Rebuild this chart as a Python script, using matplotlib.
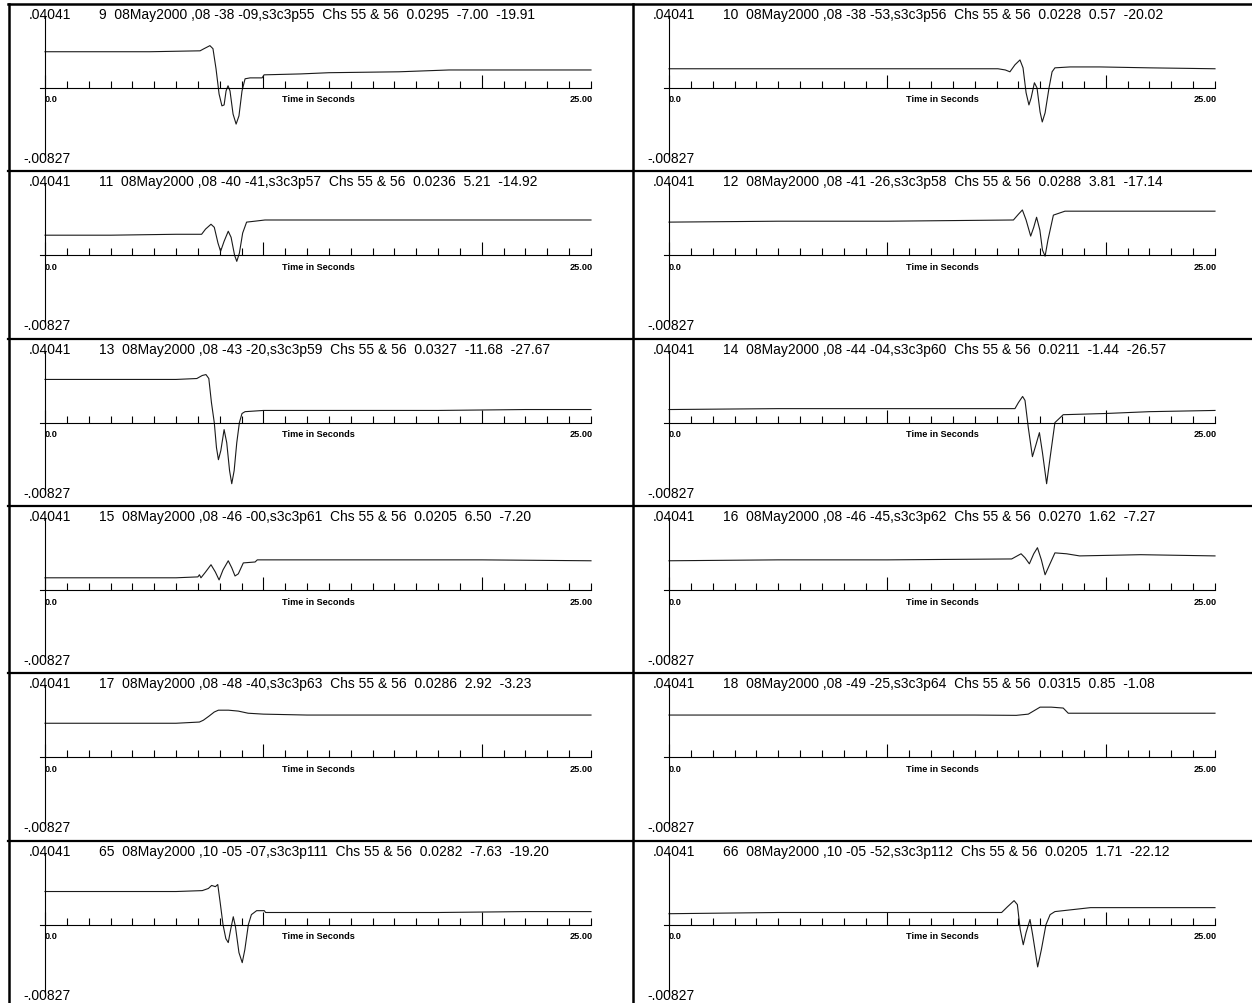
import matplotlib
matplotlib.use("Agg")
import matplotlib.pyplot as plt
import matplotlib.transforms as mtransforms
from matplotlib.ticker import MultipleLocator
from matplotlib.lines import Line2D

plt.rcParams['font.family'] = ['Liberation Sans', 'DejaVu Sans']

# scale printed on every trace
y_top = 0.04041
y_bot = -0.00827
t_end = 25.0

headers = [
    "9  08May2000 ,08 -38 -09,s3c3p55  Chs 55 & 56  0.0295  -7.00  -19.91",
    "10  08May2000 ,08 -38 -53,s3c3p56  Chs 55 & 56  0.0228  0.57  -20.02",
    "11  08May2000 ,08 -40 -41,s3c3p57  Chs 55 & 56  0.0236  5.21  -14.92",
    "12  08May2000 ,08 -41 -26,s3c3p58  Chs 55 & 56  0.0288  3.81  -17.14",
    "13  08May2000 ,08 -43 -20,s3c3p59  Chs 55 & 56  0.0327  -11.68  -27.67",
    "14  08May2000 ,08 -44 -04,s3c3p60  Chs 55 & 56  0.0211  -1.44  -26.57",
    "15  08May2000 ,08 -46 -00,s3c3p61  Chs 55 & 56  0.0205  6.50  -7.20",
    "16  08May2000 ,08 -46 -45,s3c3p62  Chs 55 & 56  0.0270  1.62  -7.27",
    "17  08May2000 ,08 -48 -40,s3c3p63  Chs 55 & 56  0.0286  2.92  -3.23",
    "18  08May2000 ,08 -49 -25,s3c3p64  Chs 55 & 56  0.0315  0.85  -1.08",
    "65  08May2000 ,10 -05 -07,s3c3p111  Chs 55 & 56  0.0282  -7.63  -19.20",
    "66  08May2000 ,10 -05 -52,s3c3p112  Chs 55 & 56  0.0205  1.71  -22.12",
]

# traces (time in s, value)
t9 = [0, 2.5, 4.8, 7.1, 7.28, 7.55, 7.69, 7.83, 7.97, 8.10, 8.20, 8.29, 8.38, 8.47,
      8.61, 8.75, 8.88, 9.02, 9.16, 9.39, 9.94, 10.03, 11.7, 13.0, 16.2, 18.5, 20.8, 25]
v9 = [0.0280, 0.0280, 0.0280, 0.0283, 0.0290, 0.0300, 0.0290, 0.0224, 0.0141, 0.0102,
      0.0105, 0.0151, 0.0168, 0.0151, 0.0075, 0.0042, 0.0069, 0.0151, 0.0191, 0.0194,
      0.0194, 0.0204, 0.0207, 0.0211, 0.0214, 0.0220, 0.0220, 0.0220]

t10 = [0, 5, 10, 15.06, 15.4, 15.61, 15.84, 16.07, 16.21, 16.35, 16.48, 16.58, 16.73,
       16.85, 16.99, 17.09, 17.22, 17.40, 17.54, 17.67, 18.36, 19.73, 22, 25]
v10 = [0.0224, 0.0224, 0.0224, 0.0224, 0.0220, 0.0214, 0.0237, 0.0253, 0.0227, 0.0145,
       0.0105, 0.0128, 0.0178, 0.0161, 0.0082, 0.0049, 0.0079, 0.0161, 0.0214, 0.0227,
       0.0230, 0.0230, 0.0227, 0.0224]

t11 = [0, 3, 6, 7.17, 7.35, 7.6, 7.75, 7.92, 8.04, 8.2, 8.39, 8.52, 8.68, 8.78, 8.9,
       9.05, 9.23, 9.6, 10.07, 12, 16, 20, 25]
v11 = [0.0227, 0.0227, 0.0230, 0.0230, 0.0247, 0.0263, 0.0253, 0.0201, 0.0174, 0.0207,
       0.0240, 0.0220, 0.0161, 0.0141, 0.0168, 0.0234, 0.0270, 0.0273, 0.0277, 0.0277,
       0.0277, 0.0277, 0.0277]

t12 = [0, 5, 10, 15.77, 16.0, 16.18, 16.35, 16.56, 16.7, 16.83, 16.98, 17.1, 17.22,
       17.35, 17.6, 18.13, 20, 25]
v12 = [0.0270, 0.0273, 0.0273, 0.0277, 0.0296, 0.0310, 0.0277, 0.0224, 0.0253, 0.0286,
       0.0244, 0.0178, 0.0158, 0.0211, 0.0293, 0.0306, 0.0306, 0.0306]

t13 = [0, 3, 6, 6.95, 7.2, 7.37, 7.5, 7.62, 7.75, 7.85, 7.94, 8.05, 8.2, 8.32, 8.45,
       8.55, 8.66, 8.78, 8.9, 9.02, 9.16, 10, 14, 18, 22, 25]
v13 = [0.0303, 0.0303, 0.0303, 0.0306, 0.0316, 0.0319, 0.0306, 0.0227, 0.0161, 0.0079,
       0.0039, 0.0069, 0.0138, 0.0095, 0.0003, -0.0040, 0.0003, 0.0095, 0.0161, 0.0191,
       0.0197, 0.0201, 0.0201, 0.0201, 0.0204, 0.0204]

t14 = [0, 5, 10, 15.84, 16.0, 16.19, 16.3, 16.45, 16.64, 16.8, 16.96, 17.1, 17.29,
       17.45, 17.67, 18.05, 20, 22, 25]
v14 = [0.0204, 0.0207, 0.0207, 0.0207, 0.0227, 0.0247, 0.0234, 0.0145, 0.0049, 0.0088,
       0.0128, 0.0062, -0.0040, 0.0046, 0.0161, 0.0187, 0.0191, 0.0197, 0.0201]

t15 = [0, 3, 6, 7.0, 7.07, 7.14, 7.35, 7.6, 7.8, 7.97, 8.15, 8.39, 8.55, 8.7, 8.85,
       9.08, 9.62, 9.72, 12, 16, 20, 25]
v15 = [0.0201, 0.0201, 0.0201, 0.0204, 0.0211, 0.0201, 0.0220, 0.0244, 0.0220, 0.0194,
       0.0227, 0.0257, 0.0234, 0.0207, 0.0214, 0.0250, 0.0253, 0.0260, 0.0260, 0.0260,
       0.0260, 0.0257]

t16 = [0, 5, 10, 15.69, 16.12, 16.3, 16.5, 16.7, 16.87, 17.05, 17.22, 17.4, 17.67,
       18.2, 18.8, 21.6, 25]
v16 = [0.0257, 0.0260, 0.0260, 0.0263, 0.0280, 0.0267, 0.0247, 0.0280, 0.0300, 0.0260,
       0.0211, 0.0240, 0.0283, 0.0280, 0.0273, 0.0277, 0.0273]

t17 = [0, 3, 6, 7.07, 7.25, 7.5, 7.75, 7.94, 8.4, 8.85, 9.3, 10, 12, 16, 20, 25]
v17 = [0.0273, 0.0273, 0.0273, 0.0277, 0.0283, 0.0296, 0.0310, 0.0316, 0.0316, 0.0313,
       0.0306, 0.0303, 0.0300, 0.0300, 0.0300, 0.0300]

t18 = [0, 5, 10, 14, 15.9, 16.45, 16.99, 17.5, 18.05, 18.28, 20, 22, 25]
v18 = [0.0300, 0.0300, 0.0300, 0.0300, 0.0299, 0.0303, 0.0326, 0.0326, 0.0323, 0.0306,
       0.0306, 0.0306, 0.0306]

t65 = [0, 3, 6, 7.2, 7.48, 7.63, 7.8, 7.91, 8.02, 8.15, 8.28, 8.39, 8.5, 8.62, 8.72,
       8.88, 9.03, 9.15, 9.31, 9.45, 9.69, 10.04, 10.1, 14, 18, 22, 25]
v65 = [0.0270, 0.0270, 0.0270, 0.0273, 0.0280, 0.0290, 0.0286, 0.0293, 0.0234, 0.0161,
       0.0115, 0.0102, 0.0145, 0.0187, 0.0154, 0.0069, 0.0036, 0.0079, 0.0161, 0.0194,
       0.0207, 0.0207, 0.0201, 0.0201, 0.0201, 0.0204, 0.0204]

t66 = [0, 5, 10, 15.23, 15.5, 15.8, 15.95, 16.08, 16.22, 16.35, 16.53, 16.65, 16.88,
       17.05, 17.26, 17.45, 17.67, 19.3, 22, 25]
v66 = [0.0197, 0.0201, 0.0201, 0.0201, 0.0220, 0.0240, 0.0227, 0.0145, 0.0095, 0.0135,
       0.0178, 0.0128, 0.0022, 0.0079, 0.0161, 0.0194, 0.0204, 0.0217, 0.0217, 0.0217]

traces = [(t9, v9), (t10, v10), (t11, v11), (t12, v12), (t13, v13), (t14, v14),
          (t15, v15), (t16, v16), (t17, v17), (t18, v18), (t65, v65), (t66, v66)]

W, H = 1252, 1004
fig = plt.figure(figsize=(W / 100, H / 100), dpi=100)
fig.patch.set_facecolor('white')

row_top = 5
row_h = 167.35
col_w = 624
mid = (y_top + y_bot) / 2
small = dict(fontsize=6.6, fontweight='bold', va='center')
big = dict(fontsize=10, va='center')

for i, (hdr, (t, v)) in enumerate(zip(headers, traces)):
    r, c = divmod(i, 2)
    x0 = 40 + c * col_w
    y0 = row_top + r * row_h + 10
    ax = fig.add_axes([x0 / W, 1 - (y0 + 148) / H, 551 / W, 148 / H])
    ax.set_xlim(-0.23, t_end)
    ax.set_ylim(y_bot, y_top)
    ax.patch.set_visible(False)

    ax.spines['top'].set_visible(False)
    ax.spines['right'].set_visible(False)
    ax.spines['bottom'].set_position(('data', mid))
    ax.spines['left'].set_position(('data', 0))
    ax.spines['left'].set_bounds(-0.0066, 0.0398)
    for s in ('bottom', 'left'):
        ax.spines[s].set_linewidth(0.8)

    ax.xaxis.set_major_locator(MultipleLocator(10))
    ax.xaxis.set_minor_locator(MultipleLocator(1))
    ax.tick_params(axis='x', which='major', direction='in', length=9.4, width=0.8,
                   labelbottom=False)
    ax.tick_params(axis='x', which='minor', direction='in', length=5, width=0.8)
    ax.tick_params(axis='y', left=False, labelleft=False)

    ax.plot(t, v, color='#1a1a1a', lw=0.8, clip_on=False)

    trans = mtransforms.blended_transform_factory(ax.transData, ax.transAxes)
    ax.text(-0.75, 1.0, '.04041', transform=trans, ha='left', **big)
    ax.text(2.45, 1.0, hdr, transform=trans, ha='left', **big)
    ax.annotate('-.00827', xy=(-1.0, 0.0), xycoords=trans, xytext=(0, 4),
                textcoords='offset pixels', ha='left', **big)

    ax.annotate('0.0', xy=(0, mid), xytext=(0, -11), textcoords='offset pixels',
                ha='left', **small)
    ax.annotate('Time in Seconds', xy=(t_end / 2, mid), xytext=(0, -11),
                textcoords='offset pixels', ha='center', **small)
    ax.annotate('25.00', xy=(t_end, mid), xytext=(2, -11), textcoords='offset pixels',
                ha='right', **small)

# panel frame lines
def hline(y, x1=8, x2=W, lw=1.8):
    fig.add_artist(Line2D([x1 / W, x2 / W], [1 - y / H, 1 - y / H], color='black', lw=lw))

def vline(x, y1=5, y2=H, lw=1.8):
    fig.add_artist(Line2D([x / W, x / W], [1 - y1 / H, 1 - y2 / H], color='black', lw=lw))

hline(5)
for k in range(1, 6):
    hline(row_top + k * row_h, lw=1.6)
vline(8.5)
vline(633)

fig.savefig('out.png', dpi=100)
